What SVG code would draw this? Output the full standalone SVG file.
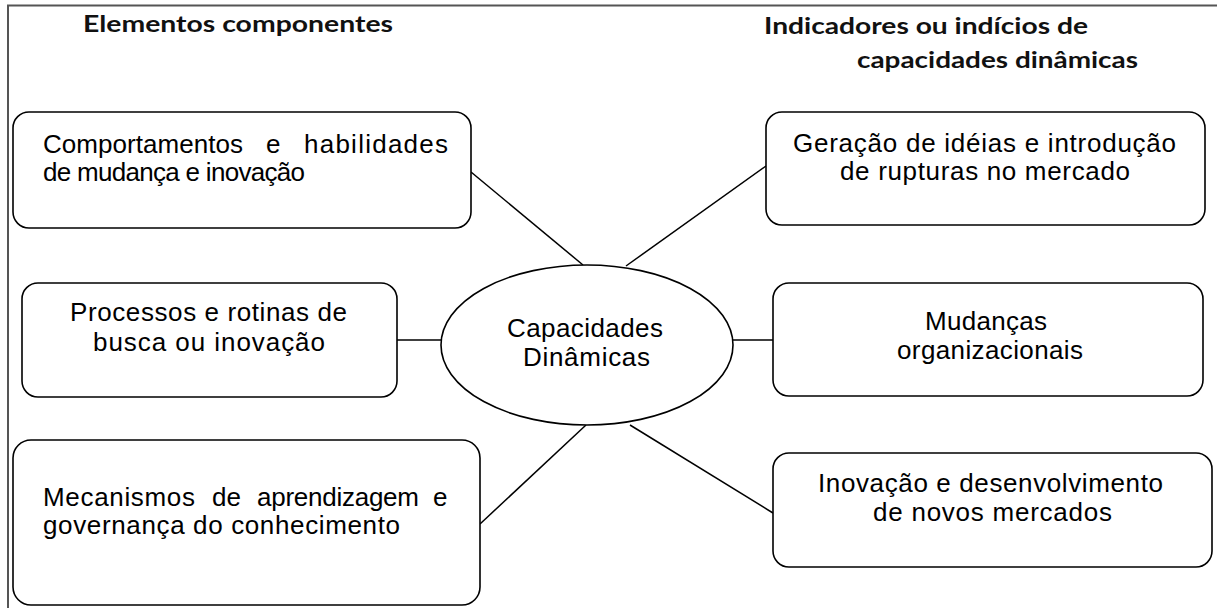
<svg xmlns="http://www.w3.org/2000/svg" width="1217" height="608" viewBox="0 0 1217 608">
<style>
.box{fill:#fff;stroke:#000;stroke-width:1.6}
.conn{stroke:#000;stroke-width:1.5;fill:none}
.t{font-family:"Liberation Sans",Arial,sans-serif;font-size:26px;fill:#000}
.h{font-family:Lato,"Liberation Sans",sans-serif;font-weight:bold;font-size:23px;fill:#111}
</style>
<rect width="1217" height="608" fill="#fff"/>
<path d="M8,608 V5.5 H1217" fill="none" stroke="#555" stroke-width="2"/>
<g id="headers">
<text class="h" x="83" y="32" textLength="310" lengthAdjust="spacingAndGlyphs">Elementos componentes</text>
<text class="h" x="764" y="34" textLength="324" lengthAdjust="spacingAndGlyphs">Indicadores ou indícios de</text>
<text class="h" x="857" y="68" textLength="281" lengthAdjust="spacingAndGlyphs">capacidades dinâmicas</text>
</g>
<g id="connectors">
<line class="conn" x1="471" y1="172" x2="583" y2="265"/>
<line class="conn" x1="766" y1="166" x2="626" y2="266"/>
<line class="conn" x1="397" y1="340" x2="442" y2="340"/>
<line class="conn" x1="733" y1="340" x2="773" y2="340"/>
<line class="conn" x1="480" y1="524" x2="586" y2="425"/>
<line class="conn" x1="630" y1="425" x2="773" y2="513"/>
</g>
<g id="n1">
<rect class="box" x="13" y="112" width="458" height="116" rx="16"/>
<text class="t" y="153"><tspan x="43" textLength="200" lengthAdjust="spacing">Comportamentos</tspan><tspan x="266">e</tspan><tspan x="304" textLength="144" lengthAdjust="spacing">habilidades</tspan></text>
<text class="t" x="43" y="181" textLength="262" lengthAdjust="spacing">de mudança e inovação</text>
</g>
<g id="n2">
<rect class="box" x="22" y="283" width="375" height="114" rx="16"/>
<text class="t" x="70" y="321" textLength="277" lengthAdjust="spacing">Processos e rotinas de</text>
<text class="t" x="93" y="351" textLength="232" lengthAdjust="spacing">busca ou inovação</text>
</g>
<g id="n3">
<rect class="box" x="13" y="440" width="467" height="165" rx="18"/>
<text class="t" y="506"><tspan x="43" textLength="152" lengthAdjust="spacing">Mecanismos</tspan><tspan x="212">de</tspan><tspan x="257" textLength="162" lengthAdjust="spacing">aprendizagem</tspan><tspan x="433">e</tspan></text>
<text class="t" x="43" y="534" textLength="357" lengthAdjust="spacing">governança do conhecimento</text>
</g>
<g id="center">
<ellipse class="box" cx="587" cy="345" rx="146" ry="80"/>
<text class="t" x="507" y="337" textLength="156" lengthAdjust="spacing">Capacidades</text>
<text class="t" x="523" y="366" textLength="127" lengthAdjust="spacing">Dinâmicas</text>
</g>
<g id="r1">
<rect class="box" x="766" y="112" width="439" height="113" rx="16"/>
<text class="t" x="793" y="152" textLength="383" lengthAdjust="spacing">Geração de idéias e introdução</text>
<text class="t" x="840" y="180" textLength="290" lengthAdjust="spacing">de rupturas no mercado</text>
</g>
<g id="r2">
<rect class="box" x="773" y="283" width="430" height="113" rx="16"/>
<text class="t" x="925" y="330" textLength="122" lengthAdjust="spacing">Mudanças</text>
<text class="t" x="897" y="359" textLength="186" lengthAdjust="spacing">organizacionais</text>
</g>
<g id="r3">
<rect class="box" x="773" y="453" width="439" height="114" rx="16"/>
<text class="t" x="818" y="492" textLength="345" lengthAdjust="spacing">Inovação e desenvolvimento</text>
<text class="t" x="873" y="521" textLength="239" lengthAdjust="spacing">de novos mercados</text>
</g>
</svg>
